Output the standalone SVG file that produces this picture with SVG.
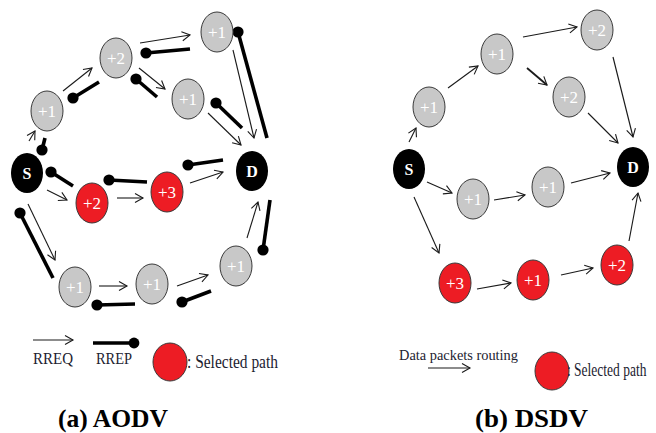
<svg xmlns="http://www.w3.org/2000/svg" width="656" height="433" viewBox="0 0 656 433">
  <style>
    .bg { fill: #ffffff; }
    .gray { fill: #c8c8c8; stroke: #3a3a3a; stroke-width: 1; }
    .red { fill: #ed1c24; stroke: #3a3a3a; stroke-width: 1; }
    .blk { fill: #000000; }
    .lbl { font-family: "Liberation Serif", "Times New Roman", serif; font-size: 17px; fill: #ffffff; text-anchor: middle; }
    .lblb { font-family: "Liberation Serif", "Times New Roman", serif; font-size: 16px; font-weight: bold; fill: #ffffff; text-anchor: middle; }
    .req { fill: none; stroke: #1a1a1a; stroke-width: 1.1; marker-end: url(#arr); }
    .rep { fill: none; stroke: #000000; stroke-width: 3.6; marker-start: url(#ball); }
    .leg { font-family: "Liberation Serif", "Times New Roman", serif; fill: #1c2230; }
    .cap { font-family: "Liberation Serif", "Times New Roman", serif; font-size: 25px; font-weight: bold; fill: #000000; }
  </style>
  <defs>
    <marker id="arr" markerWidth="12" markerHeight="12" refX="10" refY="6" orient="auto" markerUnits="userSpaceOnUse">
      <path d="M2,1.5 L10,6 L2,10.5" fill="none" stroke="#1a1a1a" stroke-width="1.1"/>
    </marker>
    <marker id="ball" markerWidth="14" markerHeight="14" refX="7" refY="7" markerUnits="userSpaceOnUse">
      <circle cx="7" cy="7" r="5.6" fill="#000000"/>
    </marker>
  </defs>
  <rect class="bg" x="0" y="0" width="656" height="433"/>

  <!-- (a) AODV: connectors -->
  <g id="aodv-connectors">
    <!-- RREQ -->
    <line class="req" x1="29" y1="141" x2="35" y2="131"/>
    <line class="req" x1="63" y1="91" x2="92" y2="68"/>
    <line class="req" x1="140" y1="43" x2="190" y2="35"/>
    <line class="req" x1="139" y1="68" x2="165" y2="89"/>
    <line class="req" x1="233" y1="50" x2="254" y2="138"/>
    <line class="req" x1="208" y1="113" x2="241" y2="145"/>
    <line class="req" x1="47" y1="190" x2="67" y2="200"/>
    <line class="req" x1="117" y1="198" x2="143" y2="198"/>
    <line class="req" x1="190" y1="183" x2="223" y2="172"/>
    <line class="req" x1="28" y1="204" x2="55" y2="260"/>
    <line class="req" x1="99" y1="286" x2="127" y2="286"/>
    <line class="req" x1="177" y1="286" x2="208" y2="275"/>
    <line class="req" x1="247" y1="238" x2="258" y2="202"/>
    <!-- RREP -->
    <line class="rep" x1="42" y1="150" x2="45" y2="138"/>
    <line class="rep" x1="73" y1="98" x2="99" y2="82"/>
    <line class="rep" x1="146" y1="53" x2="190" y2="49"/>
    <line class="rep" x1="136" y1="79" x2="157" y2="97"/>
    <line class="rep" x1="238" y1="32" x2="267" y2="138"/>
    <line class="rep" x1="216" y1="103" x2="242" y2="128"/>
    <line class="rep" x1="51" y1="172" x2="73" y2="186"/>
    <line class="rep" x1="109" y1="180" x2="147" y2="182"/>
    <line class="rep" x1="188" y1="165" x2="223" y2="160"/>
    <line class="rep" x1="20" y1="213" x2="53" y2="278"/>
    <line class="rep" x1="97" y1="305" x2="135" y2="304"/>
    <line class="rep" x1="182" y1="302" x2="211" y2="291"/>
    <line class="rep" x1="263" y1="250" x2="270" y2="200"/>
  </g>

  <!-- (a) AODV: nodes -->
  <g id="a-S"><ellipse class="blk" cx="27" cy="173" rx="16" ry="20"/><text class="lblb" x="27" y="179">S</text></g>
  <g id="a-n1"><ellipse class="gray" cx="47" cy="111" rx="16" ry="20"/><text class="lbl" x="47" y="117">+1</text></g>
  <g id="a-n2"><ellipse class="gray" cx="116" cy="58" rx="16" ry="20"/><text class="lbl" x="116" y="64">+2</text></g>
  <g id="a-n3"><ellipse class="gray" cx="217" cy="32" rx="16" ry="20"/><text class="lbl" x="217" y="38">+1</text></g>
  <g id="a-n4"><ellipse class="gray" cx="188" cy="99" rx="16" ry="20"/><text class="lbl" x="188" y="105">+1</text></g>
  <g id="a-D"><ellipse class="blk" cx="252" cy="171" rx="16" ry="20"/><text class="lblb" x="252" y="177">D</text></g>
  <g id="a-r1"><ellipse class="red" cx="92" cy="203" rx="16" ry="20"/><text class="lbl" x="92" y="209">+2</text></g>
  <g id="a-r2"><ellipse class="red" cx="167" cy="192" rx="16" ry="20"/><text class="lbl" x="167" y="198">+3</text></g>
  <g id="a-b1"><ellipse class="gray" cx="75" cy="287" rx="16" ry="20"/><text class="lbl" x="75" y="293">+1</text></g>
  <g id="a-b2"><ellipse class="gray" cx="152" cy="284" rx="16" ry="20"/><text class="lbl" x="152" y="290">+1</text></g>
  <g id="a-b3"><ellipse class="gray" cx="236" cy="266" rx="16" ry="20"/><text class="lbl" x="236" y="272">+1</text></g>

  <!-- (b) DSDV: connectors -->
  <g id="dsdv-connectors">
    <line class="req" x1="409" y1="142" x2="416" y2="128"/>
    <line class="req" x1="448" y1="88" x2="478" y2="66"/>
    <line class="req" x1="523" y1="37" x2="577" y2="27"/>
    <line class="req" x1="527" y1="68" x2="547" y2="85" style="stroke-width:1.8"/>
    <line class="req" x1="613" y1="57" x2="633" y2="137"/>
    <line class="req" x1="588" y1="113" x2="618" y2="143"/>
    <line class="req" x1="427" y1="182" x2="452" y2="193"/>
    <line class="req" x1="494" y1="200" x2="525" y2="195"/>
    <line class="req" x1="571" y1="183" x2="610" y2="173"/>
    <line class="req" x1="414" y1="197" x2="439" y2="253"/>
    <line class="req" x1="477" y1="289" x2="511" y2="283"/>
    <line class="req" x1="561" y1="275" x2="593" y2="268"/>
    <line class="req" x1="629" y1="241" x2="638" y2="193"/>
  </g>

  <!-- (b) DSDV: nodes -->
  <g id="b-S"><ellipse class="blk" cx="409" cy="169" rx="16" ry="20"/><text class="lblb" x="409" y="175">S</text></g>
  <g id="b-n1"><ellipse class="gray" cx="429" cy="107" rx="16" ry="20"/><text class="lbl" x="429" y="113">+1</text></g>
  <g id="b-n2"><ellipse class="gray" cx="497" cy="54" rx="16" ry="20"/><text class="lbl" x="497" y="60">+1</text></g>
  <g id="b-n3"><ellipse class="gray" cx="597" cy="30" rx="16" ry="20"/><text class="lbl" x="597" y="36">+2</text></g>
  <g id="b-n4"><ellipse class="gray" cx="569" cy="97" rx="16" ry="20"/><text class="lbl" x="569" y="103">+2</text></g>
  <g id="b-D"><ellipse class="blk" cx="633" cy="167" rx="16" ry="20"/><text class="lblb" x="633" y="173">D</text></g>
  <g id="b-m1"><ellipse class="gray" cx="473" cy="199" rx="16" ry="20"/><text class="lbl" x="473" y="205">+1</text></g>
  <g id="b-m2"><ellipse class="gray" cx="548" cy="187" rx="16" ry="20"/><text class="lbl" x="548" y="193">+1</text></g>
  <g id="b-r1"><ellipse class="red" cx="455" cy="283" rx="16" ry="20"/><text class="lbl" x="455" y="289">+3</text></g>
  <g id="b-r2"><ellipse class="red" cx="533" cy="280" rx="16" ry="20"/><text class="lbl" x="533" y="286">+1</text></g>
  <g id="b-r3"><ellipse class="red" cx="617" cy="265" rx="16" ry="20"/><text class="lbl" x="617" y="271">+2</text></g>

  <!-- legend (a) -->
  <g id="legend-a">
    <line class="req" x1="33" y1="340" x2="73" y2="340"/>
    <text class="leg" x="33" y="364" font-size="16" textLength="40" lengthAdjust="spacingAndGlyphs">RREQ</text>
    <line x1="93" y1="343" x2="131" y2="343" stroke="#000" stroke-width="3.6"/>
    <circle cx="134" cy="343" r="5.4" fill="#000"/>
    <text class="leg" x="96" y="364" font-size="16" textLength="36" lengthAdjust="spacingAndGlyphs">RREP</text>
    <ellipse class="red" cx="170" cy="362" rx="17" ry="19"/>
    <text class="leg" x="187" y="368" font-size="19" textLength="91" lengthAdjust="spacingAndGlyphs">: Selected path</text>
  </g>

  <!-- legend (b) -->
  <g id="legend-b">
    <text class="leg" x="399" y="360" font-size="14" textLength="119" lengthAdjust="spacingAndGlyphs">Data packets routing</text>
    <line class="req" x1="428" y1="368" x2="470" y2="368"/>
    <ellipse class="red" cx="552" cy="371" rx="17" ry="19"/>
    <text class="leg" font-size="18" transform="translate(567,376) scale(0.75,1)" x="0" y="0">: Selected path</text>
  </g>

  <!-- captions -->
  <text class="cap" x="58" y="427" textLength="110" lengthAdjust="spacingAndGlyphs">(a) AODV</text>
  <text class="cap" x="475" y="427" textLength="113" lengthAdjust="spacingAndGlyphs">(b) DSDV</text>
</svg>
